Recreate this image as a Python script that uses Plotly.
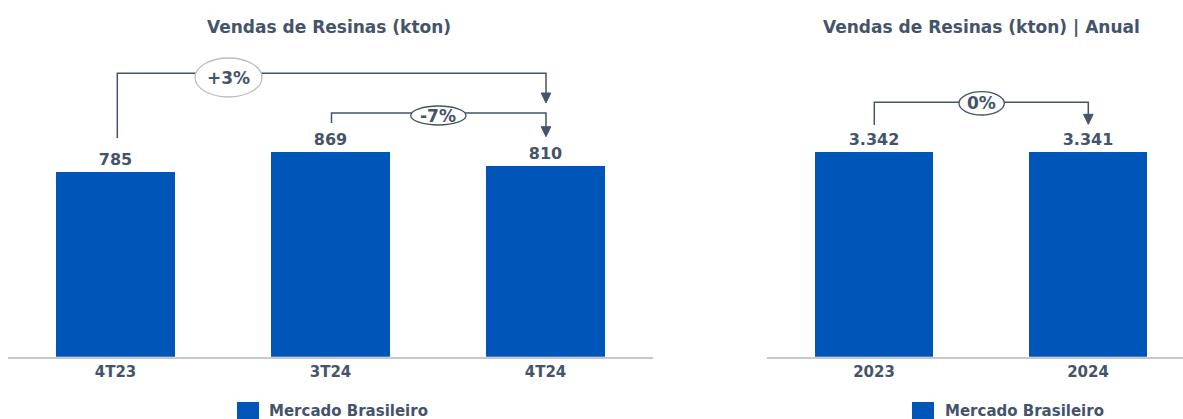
import plotly.graph_objects as go

# ---------------- data ----------------
q_categories = ["4T23", "3T24", "4T24"]
q_values = [785, 869, 810]
y_categories = ["2023", "2024"]
y_values = [3342, 3341]
series_name = "Mercado Brasileiro"
title_left = "Vendas de Resinas (kton)"
title_right = "Vendas de Resinas (kton) | Anual"
var_3 = "+3%"
var_7 = "-7%"
var_0 = "0%"

# ---------------- style ----------------
W, H = 1183, 419
BAR = "#0055B8"
TXT = "#44546A"
FONT = "DejaVu Sans, Tahoma, Verdana, sans-serif"
AXIS_PX = 356.7            # pixel row of the baseline
L_DOM = (8, 653)           # pixel span of left x axis
R_DOM = (767, 1183)
PX_PER_CAT = 215.0
L_YMAX = 1516
R_YMAX = 5832

fig = go.Figure()

fig.add_trace(go.Bar(
    x=list(range(len(q_categories))), y=q_values, name=series_name,
    marker=dict(color=BAR, line=dict(width=0)), width=0.555,
    text=q_values, texttemplate="%{y:,.0f}", textposition="outside",
    textfont=dict(family=FONT, size=16, color=TXT, weight="bold"),
    cliponaxis=False, xaxis="x", yaxis="y", showlegend=False,
))
fig.add_trace(go.Bar(
    x=list(range(len(y_categories))), y=y_values, name=series_name,
    marker=dict(color=BAR, line=dict(width=0)), width=0.555,
    text=y_values, texttemplate="%{y:,.0f}", textposition="outside",
    textfont=dict(family=FONT, size=16, color=TXT, weight="bold"),
    cliponaxis=False, xaxis="x2", yaxis="y2", showlegend=False,
))

ydom = [(H - AXIS_PX) / H, 1]
l_range = [-0.5, -0.5 + (L_DOM[1] - L_DOM[0]) / PX_PER_CAT]
r_range = [-0.5, -0.5 + (R_DOM[1] - R_DOM[0]) / 214.0]

tickfont = dict(family=FONT, size=15, color=TXT, weight="bold")
fig.update_layout(
    width=W, height=H, margin=dict(l=0, r=0, t=0, b=0),
    paper_bgcolor="white", plot_bgcolor="white",
    separators=",.",
    xaxis=dict(domain=[L_DOM[0] / W, L_DOM[1] / W], range=l_range,
               tickvals=list(range(len(q_categories))), ticktext=q_categories,
               showline=True, linecolor="#C8C8C8", linewidth=2, showgrid=False,
               zeroline=False, ticks="", tickfont=tickfont, fixedrange=True),
    yaxis=dict(domain=ydom, range=[0, L_YMAX], visible=False, fixedrange=True),
    xaxis2=dict(domain=[R_DOM[0] / W, R_DOM[1] / W], range=r_range, anchor="y2",
                tickvals=list(range(len(y_categories))), ticktext=y_categories,
                showline=True, linecolor="#C8C8C8", linewidth=2, showgrid=False,
                zeroline=False, ticks="", tickfont=tickfont, fixedrange=True),
    yaxis2=dict(domain=ydom, range=[0, R_YMAX], visible=False, anchor="x2",
                fixedrange=True),
    bargap=0,
)

# pixel -> data helpers
def lx(px):
    return l_range[0] + (px - L_DOM[0]) / PX_PER_CAT
def rx(px):
    return r_range[0] + (px - R_DOM[0]) / 214.0
def ly(py):
    return (AXIS_PX - py) * L_YMAX / AXIS_PX
def ry(py):
    return (AXIS_PX - py) * R_YMAX / AXIS_PX

shapes = []
annos = []
LINE = dict(color=TXT, width=1.5)

def bracket(xa, xb, yfrom, ytop, ytip, fx, fy, xref, yref, half_w_px=4.8, head_px=10):
    # up from first bar, across, down to the arrow base; arrow points down
    base = ytip - head_px
    p = f"M{fx(xa)},{fy(yfrom)} L{fx(xa)},{fy(ytop)} L{fx(xb)},{fy(ytop)} L{fx(xb)},{fy(base)}"
    shapes.append(dict(type="path", path=p, xref=xref, yref=yref, line=LINE))
    tri = (f"M{fx(xb - half_w_px)},{fy(base)} L{fx(xb + half_w_px)},{fy(base)} "
           f"L{fx(xb)},{fy(ytip)} Z")
    shapes.append(dict(type="path", path=tri, xref=xref, yref=yref,
                       fillcolor=TXT, line=dict(color=TXT, width=1)))

def ellipse(x0, x1, y0, y1, fx, fy, xref, yref, color, text, size):
    shapes.append(dict(type="circle", xref=xref, yref=yref,
                       x0=fx(x0), x1=fx(x1), y0=fy(y1), y1=fy(y0),
                       fillcolor="white", line=dict(color=color, width=1.3)))
    annos.append(dict(x=fx((x0 + x1) / 2), y=fy((y0 + y1) / 2), xref=xref, yref=yref,
                      text=text, showarrow=False,
                      font=dict(family=FONT, size=size, color=TXT, weight="bold")))

# +3% : 4T23 -> 4T24
bracket(117.3, 546.0, 138, 73.3, 103, lx, ly, "x", "y")
ellipse(195, 262, 58, 97, lx, ly, "x", "y", "#BFBFBF", var_3, 17)
# -7% : 3T24 -> 4T24
bracket(331.5, 546.0, 123, 113, 136.7, lx, ly, "x", "y")
ellipse(410.7, 466, 106, 125, lx, ly, "x", "y", TXT, var_7, 17)
# 0% : 2023 -> 2024
bracket(874.3, 1088.3, 125, 102.3, 124.3, rx, ry, "x2", "y2")
ellipse(959, 1004.3, 91.7, 115, rx, ry, "x2", "y2", TXT, var_0, 17)

# titles
for cx, t in [(329, title_left), (981, title_right)]:
    annos.append(dict(x=cx / W, y=1 - 27 / H, xref="paper", yref="paper", text=t,
                      showarrow=False, xanchor="center", yanchor="middle",
                      font=dict(family=FONT, size=17, color=TXT, weight="bold")))

# legends (drawn)
for sx, tx in [(237, 267), (912, 943)]:
    shapes.append(dict(type="rect", xref="paper", yref="paper",
                       x0=sx / W, x1=(sx + 22) / W, y0=1 - 421 / H, y1=1 - 402 / H,
                       fillcolor=BAR, line=dict(width=0)))
    annos.append(dict(x=tx / W, y=1 - 411 / H, xref="paper", yref="paper",
                      text=series_name, showarrow=False, xanchor="left",
                      yanchor="middle",
                      font=dict(family=FONT, size=15, color=TXT, weight="bold")))

fig.update_layout(shapes=shapes, annotations=annos)
fig.write_html("out.html")
